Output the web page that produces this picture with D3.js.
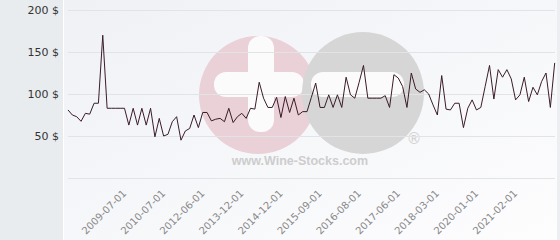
<!DOCTYPE html>
<html>
  <head>
    <meta charset="utf-8">
    <title>Wine price</title>
    <script src="https://cdn.jsdelivr.net/npm/d3@7"></script>
    <style>
      body { margin: 0; background: #ffffff; }
      svg { display: block; }
    </style>
  </head>

  <body>
    <script>
      // Prisværdier (ét punkt pr. notering)
      const prices = [
        81, 75, 73, 67.5, 77, 76, 89, 89, 170, 83,
        83, 83, 83, 83, 63, 83, 63, 83, 63, 83,
        49, 71, 50, 52, 67, 73, 45, 56, 59, 75,
        60, 78, 78, 68, 70, 71, 67, 83, 66, 73,
        77, 71, 83, 82, 114, 95, 84, 84, 96, 72,
        97, 78, 95, 75, 79, 79, 96, 113, 84, 84,
        99, 84, 99, 84, 120, 99, 95, 114, 134, 95,
        95, 95, 95, 98, 84, 123, 119, 109, 84, 125,
        106, 102, 105, 100, 87, 75, 122, 82, 81, 89,
        89, 60, 83, 93, 81, 84, 109, 134, 94, 129,
        120, 129, 118, 93, 99, 120, 91, 108, 99, 115,
        125, 84, 137
      ];

      // Datoer der vises på x-aksen
      const tickLabels = [
        "2009-07-01", "2010-07-01", "2012-06-01", "2013-12-01",
        "2014-12-01", "2015-09-01", "2016-08-01", "2017-06-01",
        "2018-03-01", "2020-01-01", "2021-02-01"
      ];
      const firstTick = 13;
      const tickStep = 9;

      const gridValues = [0, 50, 100, 150, 200];
      const yLabels = [50, 100, 150, 200];

      const w = 560;
      const h = 240;

      const svg = d3.select("body")
        .append("svg")
        .attr("width", w)
        .attr("height", h);

      // Baggrund
      const defs = svg.append("defs");
      const grad = defs.append("linearGradient")
        .attr("id", "bg")
        .attr("x1", "0").attr("y1", "0")
        .attr("x2", "1").attr("y2", "1");
      grad.append("stop").attr("offset", "0%").attr("stop-color", "#eff1f5");
      grad.append("stop").attr("offset", "100%").attr("stop-color", "#fdfdfe");

      svg.append("rect")
        .attr("width", w).attr("height", h)
        .attr("fill", "#e8ecef");
      svg.append("rect")
        .attr("x", 63).attr("y", 0)
        .attr("width", 494).attr("height", h)
        .attr("fill", "url(#bg)");
      svg.append("line")
        .attr("x1", 63.5).attr("x2", 63.5)
        .attr("y1", 0).attr("y2", h)
        .attr("stroke", "#ffffff");

      // Vandmærke
      const wm = svg.append("g");
      wm.append("circle").attr("cx", 258).attr("cy", 95).attr("r", 59).attr("fill", "#ead0d7");
      wm.append("rect").attr("x", 248).attr("y", 36).attr("width", 26).attr("height", 96).attr("rx", 12).attr("fill", "#fbfbfc");
      wm.append("rect").attr("x", 214).attr("y", 72).attr("width", 90).attr("height", 25).attr("rx", 12).attr("fill", "#fbfbfc");
      wm.append("circle").attr("cx", 363).attr("cy", 93).attr("r", 61).attr("fill", "#d6d6d6");
      wm.append("rect").attr("x", 311).attr("y", 72).attr("width", 93).attr("height", 25).attr("rx", 12).attr("fill", "#fbfbfc");
      wm.append("text")
        .attr("x", 300).attr("y", 165)
        .attr("text-anchor", "middle")
        .attr("font-family", "Liberation Sans, Arial, sans-serif")
        .attr("font-weight", "bold")
        .attr("font-size", "12.5px")
        .attr("fill", "#cdcdcd")
        .text("www.Wine-Stocks.com");
      wm.append("text")
        .attr("x", 414).attr("y", 144)
        .attr("text-anchor", "middle")
        .attr("font-family", "DejaVu Sans, sans-serif")
        .attr("font-size", "15px")
        .attr("fill", "#d2d2d2")
        .text("®");

      // Skalaer
      const x = d3.scalePoint()
        .domain(d3.range(prices.length))
        .range([68, 554.7]);

      const y = d3.scaleLinear()
        .domain([0, 200])
        .range([178, 10]);

      // Gitterlinjer
      svg.selectAll("line.grid")
        .data(gridValues)
        .enter()
        .append("line")
        .attr("class", "grid")
        .attr("x1", 68)
        .attr("x2", 555)
        .attr("y1", function (d) { return Math.round(y(d)) + 0.5; })
        .attr("y2", function (d) { return Math.round(y(d)) + 0.5; })
        .attr("stroke", "#e2e3e6")
        .attr("stroke-width", 1);

      // Y-akse tekster
      svg.selectAll("text.ylab")
        .data(yLabels)
        .enter()
        .append("text")
        .attr("class", "ylab")
        .attr("x", 59)
        .attr("y", function (d) { return y(d) + 4; })
        .attr("text-anchor", "end")
        .attr("font-family", "DejaVu Sans, sans-serif")
        .attr("font-size", "11px")
        .attr("fill", "#333333")
        .text(function (d) { return d + " $"; });

      // X-akse tekster (drejet)
      svg.selectAll("text.xlab")
        .data(tickLabels)
        .enter()
        .append("text")
        .attr("class", "xlab")
        .attr("text-anchor", "end")
        .attr("transform", function (d, i) {
          const px = x(firstTick + i * tickStep) + 2.5;
          return "translate(" + px + ",194) rotate(-45)";
        })
        .attr("font-family", "DejaVu Sans, sans-serif")
        .attr("font-size", "10px")
        .attr("fill", "#888888")
        .text(function (d) { return d; });

      // Prislinje
      const line = d3.line()
        .x(function (d, i) { return x(i); })
        .y(function (d) { return y(d); });

      svg.append("path")
        .datum(prices)
        .attr("d", line)
        .attr("fill", "none")
        .attr("stroke", "#3a1c28")
        .attr("stroke-width", 1)
        .attr("stroke-linejoin", "miter");

      // Højre kant
      svg.append("rect")
        .attr("x", 557).attr("y", 0)
        .attr("width", 3).attr("height", h)
        .attr("fill", "#eceef1");
    </script>
  </body>
</html>
